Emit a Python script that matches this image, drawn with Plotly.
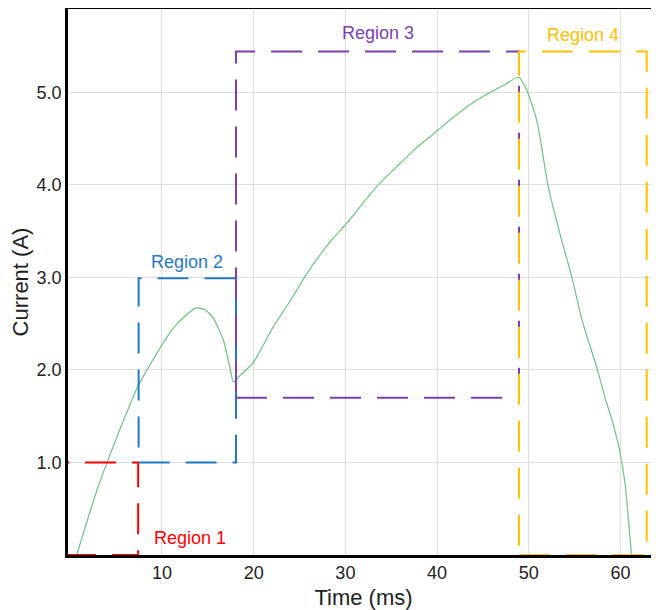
import plotly.graph_objects as go

# Measured current waveform
time_ms = [0.7, 2.0, 2.9, 3.97, 5.5, 7.4, 8.6, 9.8, 11.2, 12.5, 13.7, 14.7, 15.6, 16.7, 17.4, 17.8,
           18.5, 19.96, 22.1, 24.0, 25.8, 28.3, 30.1, 33.4, 35.95, 37.4, 39.6, 41.4, 43.5, 45.8,
           47.5, 48.7, 48.96, 49.8, 50.86, 51.4, 52.1, 53.4, 54.7, 55.8, 57.4, 58.4, 59.04,
           59.9, 60.5, 61.2]
current_a = [0.0, 0.42, 0.70, 0.99, 1.38, 1.83, 2.04, 2.24, 2.45, 2.58, 2.67, 2.65, 2.56, 2.32, 2.03, 1.87,
             1.94, 2.08, 2.46, 2.75, 3.04, 3.38, 3.58, 3.98, 4.23, 4.37, 4.55, 4.70, 4.86, 5.00,
             5.09, 5.16, 5.16, 5.02, 4.70, 4.41, 3.99, 3.47, 3.00, 2.54, 2.03, 1.67, 1.47,
             1.13, 0.77, 0.0]

# Region boxes
region_names = ["Region 1", "Region 2", "Region 3", "Region 4"]
region_x0 = [-0.6, 7.45, 18.07, 48.93]
region_x1 = [7.4, 18.07, 48.93, 62.86]
region_y0 = [0.0, 1.0, 1.70, 0.0]
region_y1 = [1.0, 2.99, 5.44, 5.44]
region_colors = ["#FF0000", "#1F7BC8", "#7B3FB0", "#FFC000"]
label_x = [13.05, 12.73, 33.56, 55.9]
label_y = [0.18, 3.17, 5.64, 5.62]

x_ticks = [10, 20, 30, 40, 50, 60]
x_ticktext = ["10", "20", "30", "40", "50", "60"]
y_ticks = [1, 2, 3, 4, 5]
y_ticktext = ["1.0", "2.0", "3.0", "4.0", "5.0"]

FONT = "Liberation Sans, Arial, sans-serif"

fig = go.Figure()
fig.add_trace(go.Scatter(x=time_ms, y=current_a, mode="lines", line_shape="spline",
                         line=dict(color="#6CC480", width=1.2, smoothing=0.6), showlegend=False))

for name, x0, x1, y0, y1, c, lx, ly in zip(region_names, region_x0, region_x1, region_y0,
                                            region_y1, region_colors, label_x, label_y):
    fig.add_shape(type="rect", x0=x0, x1=x1, y0=y0, y1=y1, xref="x", yref="y",
                  line=dict(color=c, width=2, dash="31px,16px"), layer="above")
    fig.add_annotation(x=lx, y=ly, text=name, showarrow=False,
                       font=dict(color=c, size=18, family=FONT))

# The page body has an 8px margin, so the figure is sized/offset to compensate
fig.update_layout(
    width=651, height=602,
    margin=dict(l=60, r=0, t=1, b=55),
    plot_bgcolor="white", paper_bgcolor="white",
    font=dict(family=FONT, size=18, color="#222222"),
    showlegend=False,
)
fig.update_xaxes(range=[-0.25, 64.2], tickvals=x_ticks, ticktext=x_ticktext,
                 showgrid=True, gridcolor="#DEDEDE", gridwidth=1, zeroline=False,
                 showline=True, linecolor="black", linewidth=2.5, mirror=True,
                 ticks="", automargin=False, title=dict(text="Time (ms)", standoff=10))
fig.update_yaxes(range=[0, 5.9], tickvals=y_ticks, ticktext=y_ticktext,
                 showgrid=True, gridcolor="#DEDEDE", gridwidth=1, zeroline=False,
                 showline=True, linecolor="black", linewidth=2.5,
                 ticks="", automargin=False, title=dict(text="Current (A)", standoff=6))

fig.write_html("out.html")
